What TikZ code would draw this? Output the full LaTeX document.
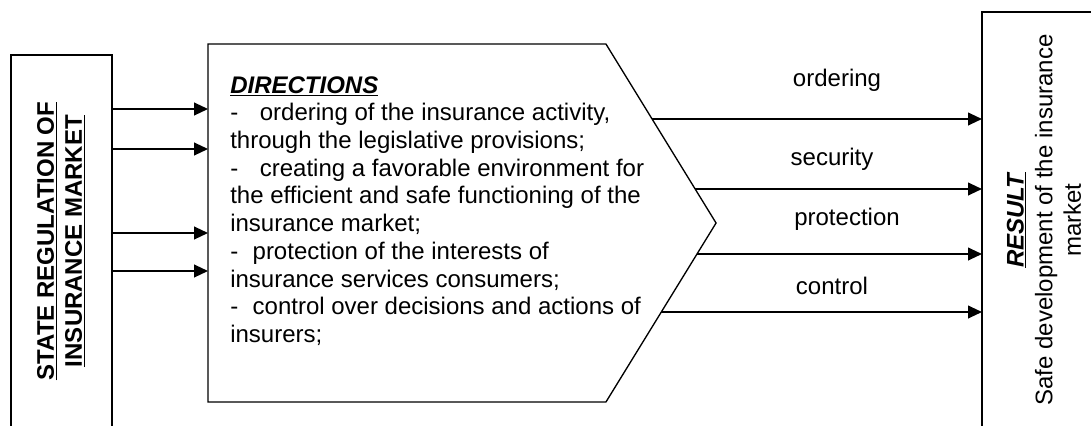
\documentclass[tikz,border=0pt]{standalone}
\usepackage{fontspec}
\setmainfont{Liberation Sans}
\usetikzlibrary{arrows.meta,shapes.symbols,backgrounds}

\tikzset{
  box/.style={draw, line width=1pt, outer sep=0pt, inner sep=0pt},
  txt/.style={inner sep=0pt, font=\fontsize{18}{20.8}\selectfont},
  arr/.style={line width=1.5pt, -{Triangle[length=10.5pt,width=9.5pt]}}
}

\begin{document}
\begin{tikzpicture}[x=0.75pt,y=-0.75pt]

      \clip (0,0) rectangle (1091,425);

      \begin{scope}[every node/.style={box}]
        \node[minimum width=75.75pt, minimum height=288.75pt] (state) at (61.5,247.5) {};
        \node[signal, signal to=east, signal pointer angle=116.8, fill=white,
              minimum width=381pt, minimum height=268.5pt] (dir) at (407,223) {};
        \node[minimum width=96pt, minimum height=321pt] (result) at (1046,226) {};
      \end{scope}

      \begin{scope}[every node/.style={txt}]
        \node[rotate=90, align=center, font=\fontsize{18}{21}\selectfont\bfseries] (statetext) at (61,241)
          {\underline{STATE REGULATION OF}\\ \underline{INSURANCE MARKET}};
        \node[anchor=north west, align=left] (dirtext) at (230,76)
          {\underline{\textbf{\textit{DIRECTIONS}}}\\
           -\hspace{0.9em}ordering of the insurance activity,\\
           through the legislative provisions;\\
           -\hspace{0.9em}creating a favorable environment for\\
           the efficient and safe functioning of the\\
           insurance market;\\
           -\hspace{0.6em}protection of the interests of\\
           insurance services consumers;\\
           -\hspace{0.6em}control over decisions and actions of\\
           insurers;};
        \node[rotate=90, align=center, font=\fontsize{18}{21.5}\selectfont] (resulttext) at (1044,220)
          {\underline{\textbf{\textit{RESULT}}}\\ Safe development of the insurance\\ market};
        \node (ordering)   at (837,80)  {ordering};
        \node (security)   at (832,159) {security};
        \node (protection) at (847,219) {protection};
        \node (control)    at (832,286) {control};
      \end{scope}

      % inputs
      \foreach \y in {109,149,233,271}
        \draw[arr] (state.east |- 0,\y) -- (dir.west |- 0,\y);

      % outputs
      \begin{scope}[on background layer]
        \foreach \y in {119,189,254,312}
          \draw[arr] (dir.center |- 0,\y) -- (result.west |- 0,\y);
      \end{scope}

    \end{tikzpicture}
\end{document}
